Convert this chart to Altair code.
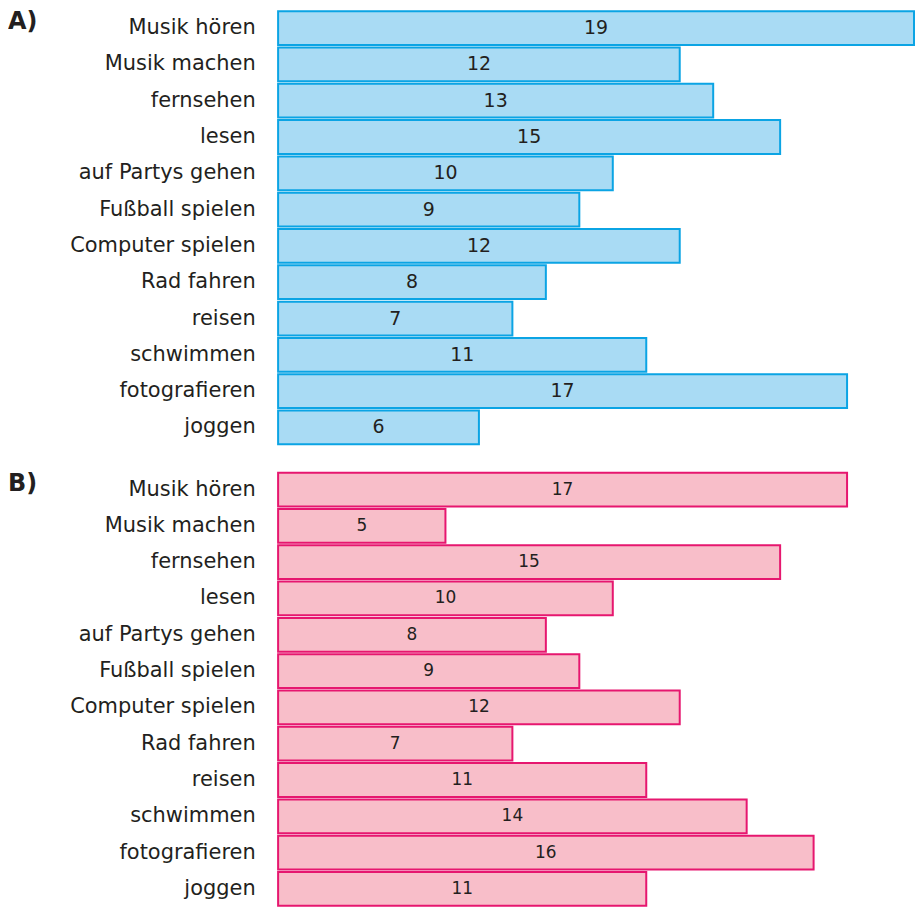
import altair as alt
import pandas as pd

categories = ["Musik hören", "Musik machen", "fernsehen", "lesen", "auf Partys gehen",
              "Fußball spielen", "Computer spielen", "Rad fahren", "reisen", "schwimmen",
              "fotografieren", "joggen"]
values_a = [19, 12, 13, 15, 10, 9, 12, 8, 7, 11, 17, 6]
values_b = [17, 5, 15, 10, 8, 9, 12, 7, 11, 14, 16, 11]
panel_letters = ["A)", "B)"]

FONT = "DejaVu Sans"
TEXT_COLOR = "#231F20"
X_MAX = 19


def panel(values, letter, fill, stroke, num_size):
    df = pd.DataFrame({"cat": categories, "value": values})
    xscale = alt.Scale(domain=[0, X_MAX], nice=False, zero=True)
    yenc = alt.Y("cat:N", sort=categories, title=None,
                 scale=alt.Scale(paddingInner=0.07, paddingOuter=0.02),
                 axis=alt.Axis(labelFont=FONT, labelFontSize=21, labelColor=TEXT_COLOR,
                               labelPadding=23, ticks=False, domain=False, grid=False,
                               labelLimit=400))
    base = alt.Chart(df).encode(y=yenc)
    bars = base.mark_bar(fill=fill, stroke=stroke, strokeWidth=2).encode(
        x=alt.X("value:Q", scale=xscale, axis=None)
    )
    nums = base.transform_calculate(mid="datum.value / 2").mark_text(
        font=FONT, fontSize=num_size, color=TEXT_COLOR
    ).encode(
        x=alt.X("mid:Q", scale=xscale, axis=None),
        text=alt.Text("value:Q"),
    )
    lab = alt.Chart(pd.DataFrame({"t": [letter]})).mark_text(
        font=FONT, fontSize=24, fontWeight="bold", color=TEXT_COLOR,
        align="left", baseline="top"
    ).encode(x=alt.value(-271), y=alt.value(0), text="t:N")
    return alt.layer(bars, nums, lab).properties(width=638, height=436)


chart = alt.vconcat(
    panel(values_a, panel_letters[0], "#A9DBF4", "#0BA4E4", 19),
    panel(values_b, panel_letters[1], "#F8BEC9", "#E6176F", 17),
    spacing=25,
).properties(
    padding={"left": 0, "top": 0, "right": 0, "bottom": 0},
    background="white",
).configure_view(stroke=None)

chart.save("out.html", embed_options={"renderer": "svg", "actions": False})
